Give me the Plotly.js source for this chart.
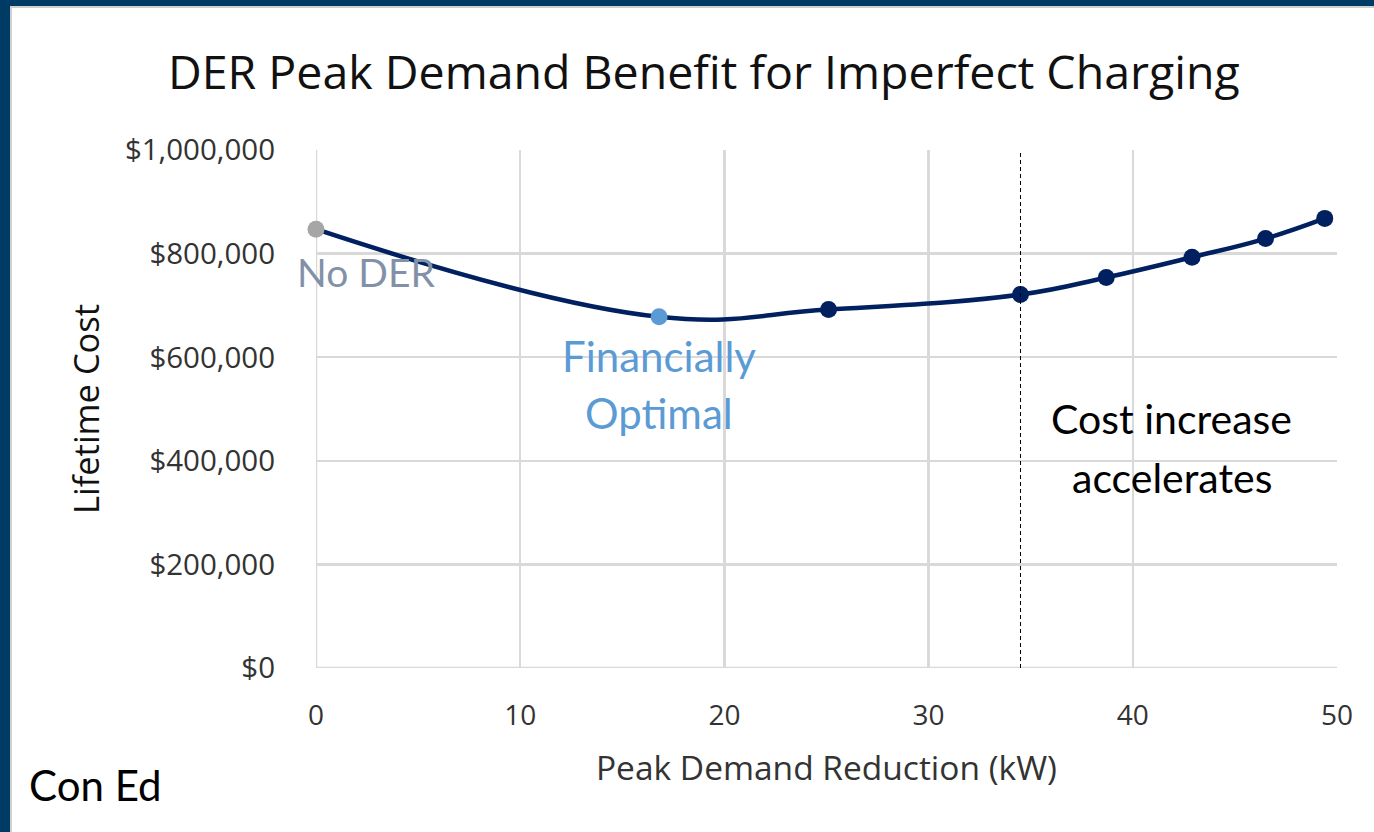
<!DOCTYPE html>
<html>
<head>
<meta charset="utf-8">
<script src="https://cdn.plot.ly/plotly-3.0.1.min.js"></script>
<style>
  html, body { margin: 0; padding: 0; width: 1374px; height: 832px; overflow: hidden; background: #003b66; }
  #frame { position: absolute; left: 10px; top: 6px; width: 1364px; height: 826px; background: #ffffff;
           border-left: 2px solid #d0d0d0; border-top: 2px solid #d0d0d0; box-sizing: border-box; }
  #chart { position: absolute; left: 0; top: 0; width: 1362px; height: 824px; }
</style>
</head>
<body>
<div id="frame"><div id="chart"></div></div>
<script>
// Data
const peakReduction = [0, 16.8, 25.1, 34.5, 38.7, 42.9, 46.5, 49.4];        // kW
const lifetimeCost  = [847000, 678000, 692000, 721000, 754000, 793000, 829000, 868000]; // $
const pointColors   = ['#a6a6a6', '#5b9bd5', '#002060', '#002060', '#002060', '#002060', '#002060', '#002060'];
const xTicks = [0, 10, 20, 30, 40, 50];
const yTicks = [0, 200000, 400000, 600000, 800000, 1000000];
const yTickText = ['$0', '$200,000', '$400,000', '$600,000', '$800,000', '$1,000,000'];
const accelerationStart = 34.5;

const trace = {
  x: peakReduction,
  y: lifetimeCost,
  type: 'scatter',
  mode: 'lines+markers',
  cliponaxis: false,
  line: { color: '#002060', width: 4.5, shape: 'spline', smoothing: 1.2 },
  marker: { color: pointColors, size: 17 },
  hoverinfo: 'x+y'
};

const annFont = 'Lato, "Noto Sans", sans-serif';
const axFont = '"Open Sans", "Noto Sans", sans-serif';
const layout = {
  width: 1362,
  height: 824,
  margin: { l: 304, r: 37, t: 142, b: 164 },
  paper_bgcolor: '#ffffff',
  plot_bgcolor: '#ffffff',
  showlegend: false,
  title: {
    text: 'DER Peak Demand Benefit for Imperfect Charging',
    font: { family: axFont, size: 46.5, color: '#111111' },
    x: 0.508, xanchor: 'center', y: 0.922, yanchor: 'middle'
  },
  xaxis: {
    range: [0, 50],
    tickvals: xTicks,
    ticks: 'outside', ticklen: 22, tickcolor: 'rgba(0,0,0,0)',
    tickfont: { family: axFont, size: 28, color: '#333333' },
    showgrid: true, gridcolor: '#d9d9d9', gridwidth: 2.5,
    zeroline: false, showline: false,
    fixedrange: true,
    title: {
      text: 'Peak Demand Reduction (kW)',
      font: { family: axFont, size: 33.5, color: '#333333' },
      standoff: 24
    }
  },
  yaxis: {
    range: [0, 1000000],
    tickvals: yTicks,
    ticktext: yTickText,
    ticks: 'outside', ticklen: 34, tickcolor: 'rgba(0,0,0,0)',
    tickfont: { family: axFont, size: 29.5, color: '#333333' },
    showgrid: true, gridcolor: '#d9d9d9', gridwidth: 2.5,
    zeroline: false, showline: false,
    fixedrange: true,
    title: {
      text: 'Lifetime Cost',
      font: { family: axFont, size: 34.5, color: '#111111' },
      standoff: 14
    }
  },
  shapes: [
    { type: 'line', xref: 'x', yref: 'paper', x0: 0, x1: 0, y0: 0, y1: 1, line: { color: '#d9d9d9', width: 2.5 }, layer: 'below' },
    { type: 'line', xref: 'paper', yref: 'y', x0: 0, x1: 1, y0: 0, y1: 0, line: { color: '#d9d9d9', width: 2.5 }, layer: 'below' },
    { type: 'line', xref: 'x', yref: 'paper', x0: accelerationStart, x1: accelerationStart, y0: 0, y1: 1,
      line: { color: '#000000', width: 1, dash: '4px,3px' } }
  ],
  annotations: [
    { x: 2.46, y: 764000, xref: 'x', yref: 'y', text: 'No DER', showarrow: false,
      font: { family: annFont, size: 39, color: '#8391a8' }, xanchor: 'center', yanchor: 'middle' },
    { x: 16.8, y: 603000, xref: 'x', yref: 'y', text: 'Financially', showarrow: false,
      font: { family: annFont, size: 42, color: '#5b9bd5' }, xanchor: 'center', yanchor: 'middle' },
    { x: 16.8, y: 492000, xref: 'x', yref: 'y', text: 'Optimal', showarrow: false,
      font: { family: annFont, size: 42, color: '#5b9bd5' }, xanchor: 'center', yanchor: 'middle' },
    { x: 41.9, y: 481000, xref: 'x', yref: 'y', text: 'Cost increase', showarrow: false,
      font: { family: annFont, size: 41, color: '#000000' }, xanchor: 'center', yanchor: 'middle' },
    { x: 41.9, y: 367000, xref: 'x', yref: 'y', text: 'accelerates', showarrow: false,
      font: { family: annFont, size: 41, color: '#000000' }, xanchor: 'center', yanchor: 'middle' },
    { x: -0.283, y: -0.225, xref: 'paper', yref: 'paper', text: 'Con Ed', showarrow: false,
      font: { family: annFont, size: 42, color: '#000000' }, xanchor: 'left', yanchor: 'middle' }
  ]
};

Plotly.newPlot('chart', [trace], layout, { displayModeBar: false, staticPlot: true });
</script>
</body>
</html>
